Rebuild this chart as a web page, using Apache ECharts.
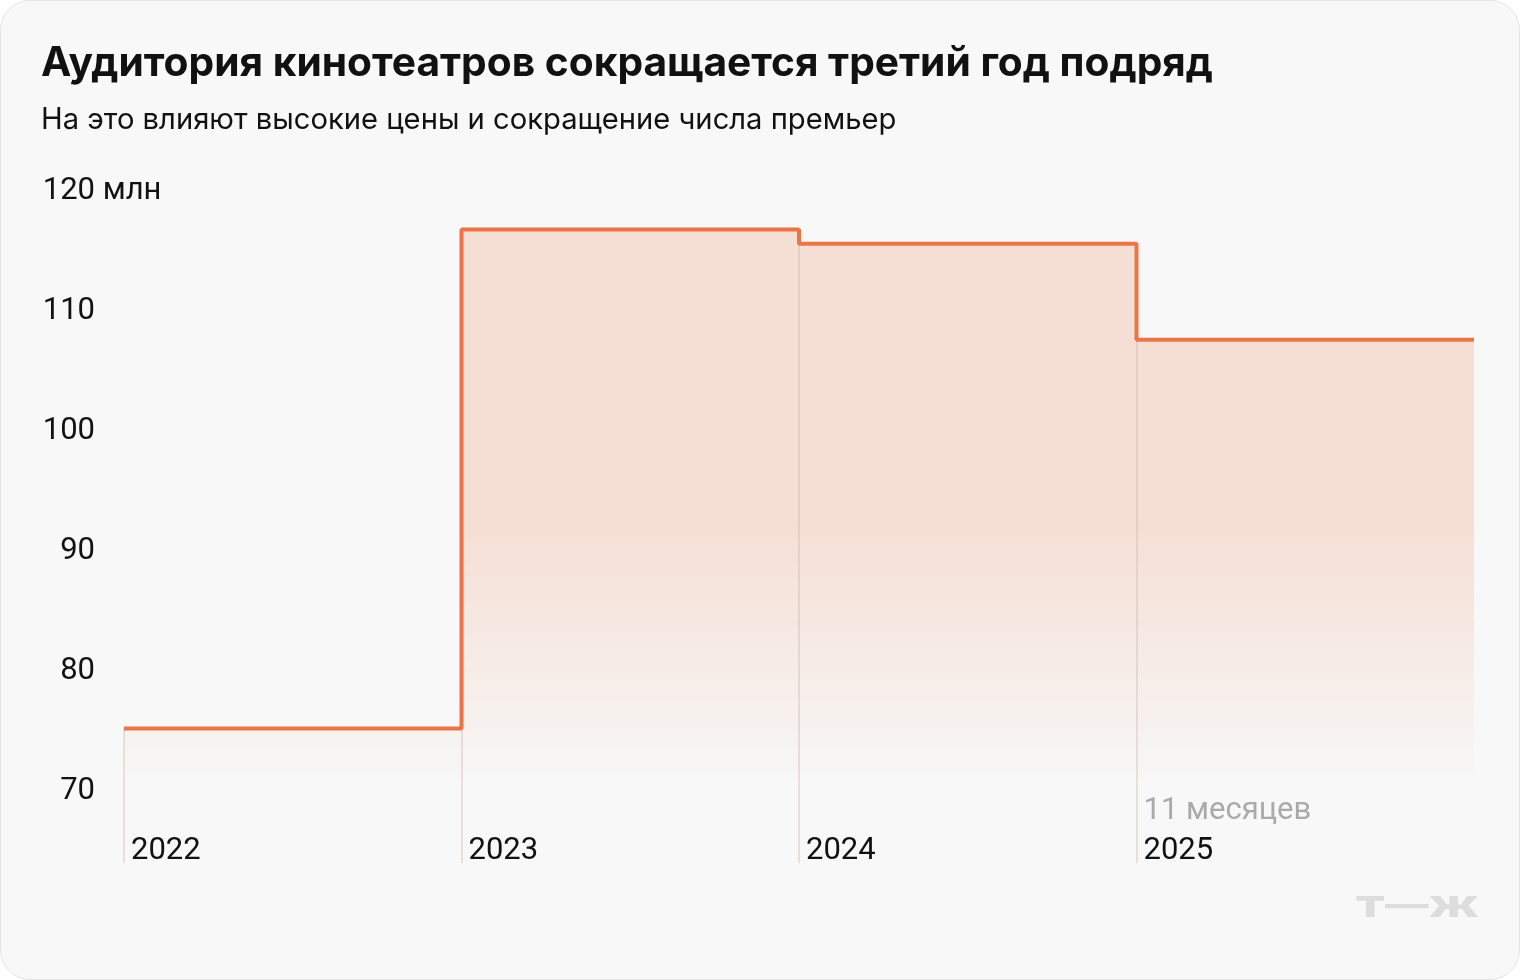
<!DOCTYPE html>
<html><head><meta charset="utf-8">
<script src="https://cdn.jsdelivr.net/npm/echarts@6/dist/echarts.min.js"></script>
<style>
html,body{margin:0;padding:0;background:#fff;}
#c{width:1518px;height:978px;border:1px solid #e4e4e4;border-radius:30px;background:#f8f8f8;overflow:hidden;}
</style></head>
<body><div id="c"></div>
<script>
const years = ['2022', '2023', '2024', '2025'];
const audience = [75.2, 116.8, 115.6, 107.6];
const yTicks = [70, 80, 90, 100, 110, 120];
const yMin = 64, yMax = 120;
const unitLabel = ' млн';
const noteLabel = '11 месяцев';
const titleText = 'Аудитория кинотеатров сокращается третий год подряд';
const subtitleText = 'На это влияют высокие цены и сокращение числа премьер';

const stepData = audience.map((v, i) => [i, v]);
stepData.push([audience.length, audience[audience.length - 1]]);
const vLines = audience.map((v, i) => [{coord: [i, yMin]}, {coord: [i, v]}]);

const FONT = 'Inter';
const AFONT = 'Roboto';
const chart = echarts.init(document.getElementById('c'), null, {renderer: 'canvas'});
chart.setOption({
  backgroundColor: 'transparent',
  animation: false,
  textStyle: {fontFamily: FONT},
  title: [
    {text: titleText, left: 40, top: 42, padding: 0, textStyle: {fontSize: 40.7, fontWeight: 'bold', color: '#111', fontFamily: FONT}},
    {text: subtitleText, left: 40, top: 105, padding: 0, textStyle: {fontSize: 29.2, fontWeight: 'normal', color: '#111', fontFamily: FONT}}
  ],
  graphic: [
    {type: 'text', right: 40, bottom: 56, scaleX: 1.5, style: {text: 'Т—Ж', fontSize: 29, fontWeight: 900, fill: '#dddddd', fontFamily: 'Inter'}}
  ],
  grid: {left: 123, right: 45, top: 190, bottom: 116},
  xAxis: {
    type: 'value', min: 0, max: years.length, interval: 1,
    axisLine: {show: false}, axisTick: {show: false}, splitLine: {show: false},
    axisLabel: {
      show: true, showMaxLabel: true, showMinLabel: true,
      align: 'left', verticalAlign: 'bottom', margin: 8,
      padding: [0, 0, 0, 7],
      fontSize: 31, color: '#111', fontFamily: AFONT, lineHeight: 40,
      formatter: function (v) {
        const i = Math.round(v);
        if (i < 0 || i >= years.length) return '';
        if (i === years.length - 1) return '{note|' + noteLabel + '}\n' + years[i];
        return years[i];
      },
      rich: {note: {fontSize: 31, color: '#aaaaaa', fontFamily: AFONT, lineHeight: 40}}
    }
  },
  yAxis: {
    type: 'value', min: yMin, max: yMax,
    axisLine: {show: false}, axisTick: {show: false}, splitLine: {show: false},
    axisLabel: {
      customValues: yTicks,
      align: 'left', margin: 83,
      formatter: function (v) {
        return '{n|' + v + '}' + (v === yTicks[yTicks.length - 1] ? '{u|' + unitLabel + '}' : '');
      },
      rich: {
        n: {width: 54, align: 'right', fontSize: 31, color: '#111', fontFamily: AFONT},
        u: {align: 'right', fontSize: 31, color: '#111', fontFamily: AFONT}
      }
    }
  },
  series: [
    {
      type: 'line', z: 1, step: 'end', data: stepData, symbol: 'none', silent: true,
      lineStyle: {width: 0, opacity: 0},
      areaStyle: {
        origin: 'start', opacity: 1,
        color: {type: 'linear', x: 0, y: 0, x2: 0, y2: 1, colorStops: [
          {offset: 0, color: 'rgba(245,222,211,1)'},
          {offset: 0.46, color: 'rgba(245,222,211,1)'},
          {offset: 0.88, color: 'rgba(245,222,211,0)'},
          {offset: 1, color: 'rgba(245,222,211,0)'}
        ]}
      }
    },
    {
      type: 'line', z: 2, data: [], silent: true,
      markLine: {silent: true, z: 2, symbol: 'none', label: {show: false},
        lineStyle: {color: 'rgba(190,170,160,0.3)', width: 2, type: 'solid'}, data: vLines}
    },
    {
      type: 'line', z: 3, step: 'end', data: stepData, symbol: 'none', silent: true,
      lineStyle: {color: '#ec7548', width: 4}
    }
  ]
});
</script></body></html>
